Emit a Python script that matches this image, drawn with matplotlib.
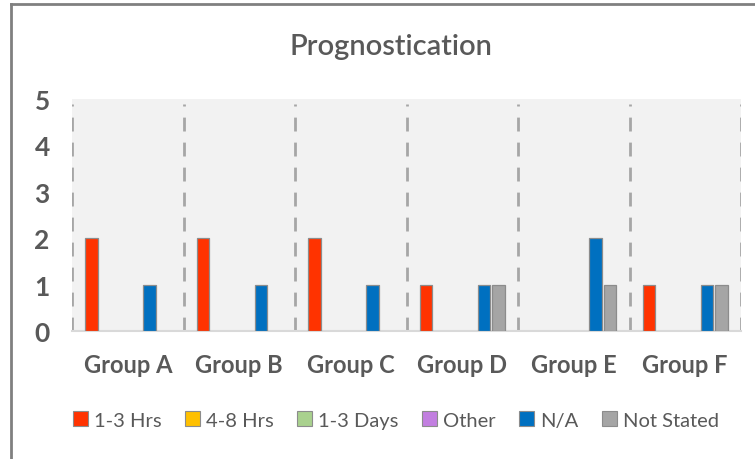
import matplotlib
matplotlib.use('Agg')
import matplotlib.pyplot as plt
import matplotlib.patches as mpatches
import numpy as np

groups = ['Group A', 'Group B', 'Group C', 'Group D', 'Group E', 'Group F']
series = ['1-3 Hrs', '4-8 Hrs', '1-3 Days', 'Other', 'N/A', 'Not Stated']
hrs_1_3 = [2, 2, 2, 1, 0, 1]
hrs_4_8 = [0, 0, 0, 0, 0, 0]
days_1_3 = [0, 0, 0, 0, 0, 0]
other = [0, 0, 0, 0, 0, 0]
na = [1, 1, 1, 1, 2, 1]
not_stated = [0, 0, 0, 1, 1, 1]
values = [hrs_1_3, hrs_4_8, days_1_3, other, na, not_stated]
colors = ['#FF3300', '#FFC000', '#A9D18E', '#C27FE0', '#0070C0', '#A5A5A5']

plt.rcParams['font.family'] = ['Lato', 'DejaVu Sans']
txt = '#595959'

fig = plt.figure(figsize=(7.55, 4.6), dpi=100)
ax = fig.add_axes([72 / 755, 1 - 332 / 460, (741 - 72) / 755, 232 / 460])
ax.set_facecolor('#F2F2F2')

x = np.arange(len(groups))
w = 0.13
for k, (name, vals, c) in enumerate(zip(series, values, colors)):
    bars = ax.bar(x + (k - 2.5) * w, vals, width=w * 0.88, color=c,
                  edgecolor='#8C8C8C', linewidth=0.9, label=name, zorder=3)
    for b, v in zip(bars, vals):
        if v == 0:
            b.set_visible(False)

# dashed separators between groups
for xb in np.arange(-0.5, len(groups), 1.0):
    ax.axvline(xb, ymin=0, ymax=0.98, color='#A6A6A6', lw=2,
               linestyle=(0, (5, 4)), zorder=2)

ax.set_xlim(-0.5, len(groups) - 0.5)
ax.set_ylim(0, 5)
ax.set_yticks(range(6))
ax.set_xticks(x)
ax.set_xticklabels(groups, fontsize=17, fontweight='bold', color=txt)
ax.tick_params(axis='y', length=0, pad=16, labelsize=19, labelcolor=txt)
for t in ax.get_yticklabels():
    t.set_fontweight('bold')
ax.tick_params(axis='x', length=0, pad=16)
for s in ['top', 'right', 'left']:
    ax.spines[s].set_visible(False)
ax.spines['bottom'].set_color('#D9D9D9')
ax.spines['bottom'].set_linewidth(1.5)

fig.text(391 / 755, 1 - 47 / 460, 'Prognostication', ha='center', va='center',
         fontsize=21, fontweight='semibold', color=txt)

handles = [mpatches.Patch(facecolor=c, edgecolor='#8C8C8C', linewidth=0.8)
           for c in colors]
fig.legend(handles, series, loc='center', bbox_to_anchor=(396 / 755, 1 - 421 / 460),
           ncol=6, frameon=False, fontsize=14.5,
           labelcolor=txt, handlelength=0.75, handleheight=0.75,
           handletextpad=0.3, columnspacing=1.15)

# outer chart border (left and top)
fig.add_artist(plt.Line2D([11 / 755, 11 / 755], [0, 1 - 5 / 460],
                          transform=fig.transFigure, color='#808080', lw=2))
fig.add_artist(plt.Line2D([11 / 755, 1], [1 - 5 / 460, 1 - 5 / 460],
                          transform=fig.transFigure, color='#808080', lw=2))

plt.savefig('out.png', dpi=100)
